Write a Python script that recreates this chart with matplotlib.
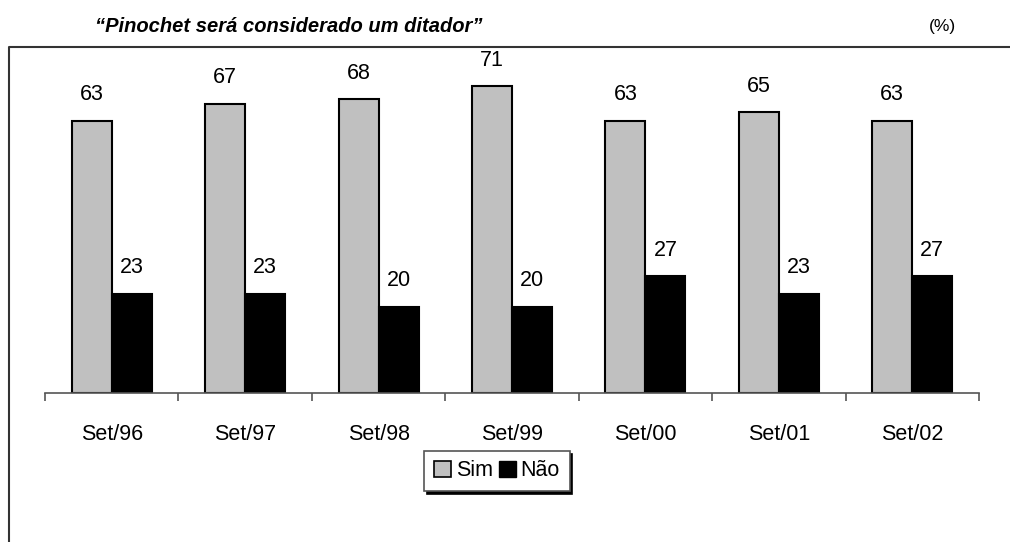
import numpy as np
import matplotlib.pyplot as plt
from matplotlib.patches import Patch
from matplotlib.lines import Line2D

plt.rcParams['font.family'] = ['Liberation Sans', 'DejaVu Sans']

periodos = ['Set/96', 'Set/97', 'Set/98', 'Set/99', 'Set/00', 'Set/01', 'Set/02']
sim = [63, 67, 68, 71, 63, 65, 63]
nao = [23, 23, 20, 20, 27, 23, 27]

W, H = 1010, 542
fig = plt.figure(figsize=(W / 100, H / 100), dpi=100)

# axes placed in pixel terms: baseline at y=393, x from 45 to 979
ax = fig.add_axes([45 / W, (H - 393) / H, (979 - 45) / W, 345.6 / H])
x = np.arange(len(periodos))
bw = 0.3
ax.bar(x - bw / 2, sim, bw, color='#c0c0c0', edgecolor='black', linewidth=1.5, zorder=2)
ax.bar(x + bw / 2, nao, bw, color='black', edgecolor='black', linewidth=1.5, zorder=2)

fs = 15.5
for xi, v in zip(x, sim):
    ax.text(xi - bw / 2, v + 3.6, str(v), ha='center', va='bottom', fontsize=fs)
for xi, v in zip(x, nao):
    ax.text(xi + bw / 2, v + 3.6, str(v), ha='center', va='bottom', fontsize=fs)

ax.set_xlim(-0.5, len(periodos) - 0.5)
ax.set_ylim(0, 80)
for s in ['top', 'right', 'left']:
    ax.spines[s].set_visible(False)
ax.spines['bottom'].set_color('#555555')
ax.spines['bottom'].set_linewidth(1.2)
ax.set_yticks([])
ax.set_xticks(np.arange(-0.5, len(periodos)))
ax.set_xticklabels([])
ax.tick_params(axis='x', which='major', direction='out', length=6, color='#555555', width=1.2)
ax.set_xticks(x, minor=True)
ax.set_xticklabels(periodos, minor=True, fontsize=fs)
ax.tick_params(axis='x', which='minor', length=0, pad=22)

fig.text(95 / W, 1 - 27 / H, '\u201cPinochet será considerado um ditador\u201d',
         fontsize=14.5, fontweight='bold', fontstyle='italic', va='center', ha='left')
fig.text(942 / W, 1 - 27 / H, '(%)', fontsize=12.5, ha='center', va='center')

# outer frame, open at right and bottom
fig.add_artist(Line2D([9 / W, 9 / W, 1], [0, 1 - 47 / H, 1 - 47 / H],
                      transform=fig.transFigure, color='#333333', linewidth=1.5))

handles = [Patch(facecolor='#c0c0c0', edgecolor='black', linewidth=1.2),
           Patch(facecolor='black', edgecolor='black')]
leg = fig.legend(handles, ['Sim', 'Não'], loc='center', bbox_to_anchor=(497 / W, 1 - 471 / H),
                 ncol=2, fontsize=fs, frameon=True, fancybox=False, edgecolor='#555555',
                 shadow={'color': 'black', 'alpha': 1}, handlelength=0.8, handleheight=0.8,
                 handletextpad=0.2, columnspacing=0.3, borderpad=0.45, borderaxespad=0,
                 framealpha=1)
leg.get_frame().set_linewidth(1.2)

fig.savefig('out.png', dpi=100)
